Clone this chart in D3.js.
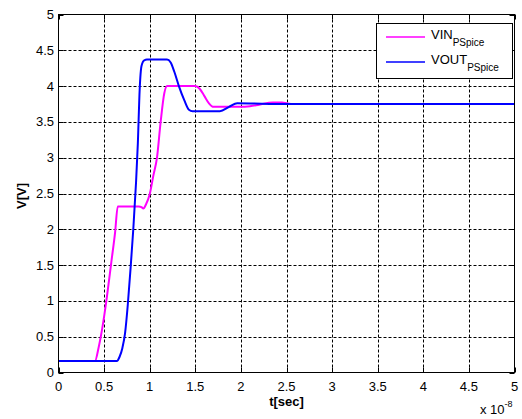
<!DOCTYPE html>
<html>
<head>
<meta charset="utf-8">
<script src="https://cdn.jsdelivr.net/npm/d3@7"></script>
<style>
  html, body { margin: 0; padding: 0; background: #fff; }
  svg { display: block; font-family: "Liberation Sans", Arial, Helvetica, sans-serif; }
</style>
</head>
<body>
<svg id="chart" width="522" height="419"></svg>
<script>
// Time axis values are in units of 1e-8 s
const vinTime = [0, 0.40, 0.44, 0.48, 0.53, 0.58, 0.62, 0.65, 0.88, 0.91, 0.93, 0.96, 1.00, 1.04, 1.08, 1.12, 1.16, 1.19, 1.50, 1.55, 1.60, 1.65, 1.70, 2.00, 2.10, 2.20, 2.35, 2.45, 2.55, 5.0];
const vinValues = [0.16, 0.16, 0.35, 0.62, 1.05, 1.55, 1.95, 2.32, 2.32, 2.31, 2.29, 2.35, 2.49, 2.75, 3.0, 3.5, 3.9, 4.0, 4.0, 3.96, 3.86, 3.76, 3.71, 3.71, 3.72, 3.74, 3.77, 3.77, 3.75, 3.75];

const voutTime = [0, 0.64, 0.67, 0.70, 0.73, 0.76, 0.79, 0.82, 0.85, 0.87, 0.89, 0.91, 0.94, 0.97, 1.19, 1.23, 1.27, 1.32, 1.38, 1.43, 1.47, 1.77, 1.87, 1.96, 2.5, 5.0];
const voutValues = [0.16, 0.16, 0.22, 0.34, 0.55, 0.95, 1.45, 2.0, 2.65, 3.2, 3.95, 4.28, 4.36, 4.37, 4.37, 4.33, 4.2, 4.0, 3.8, 3.67, 3.65, 3.65, 3.71, 3.76, 3.75, 3.75];

const xTicks = [0, 0.5, 1, 1.5, 2, 2.5, 3, 3.5, 4, 4.5, 5];
const yTicks = [0, 0.5, 1, 1.5, 2, 2.5, 3, 3.5, 4, 4.5, 5];
const xTickLabels = ["0", "0.5", "1", "1.5", "2", "2.5", "3", "3.5", "4", "4.5", "5"];
const yTickLabels = ["0", "0.5", "1", "1.5", "2", "2.5", "3", "3.5", "4", "4.5", "5"];

const seriesNames = ["VIN", "VOUT"];
const seriesSub = "PSpice";
const seriesColors = ["#ff00ff", "#0000ff"];

const svg = d3.select("#chart");
const plotLeft = 58.5, plotRight = 514.5, plotTop = 14.5, plotBottom = 372.5;

const x = d3.scaleLinear().domain([0, 5]).range([plotLeft, plotRight]);
const y = d3.scaleLinear().domain([0, 5]).range([plotBottom, plotTop]);

// Dashed grid
const grid = svg.append("g").attr("stroke", "#000").attr("stroke-width", 1).attr("stroke-dasharray", "3,2");
grid.selectAll("line.gx").data(xTicks.slice(1, -1)).join("line")
  .attr("x1", d => Math.round(x(d)) + 0.5).attr("x2", d => Math.round(x(d)) + 0.5)
  .attr("y1", plotTop).attr("y2", plotBottom);
grid.selectAll("line.gy").data(yTicks.slice(1, -1)).join("line")
  .attr("y1", d => Math.round(y(d)) + 0.5).attr("y2", d => Math.round(y(d)) + 0.5)
  .attr("x1", plotLeft).attr("x2", plotRight);

// Inward ticks on all four sides
const tickLen = 5;
const ticks = svg.append("g").attr("stroke", "#000").attr("stroke-width", 1);
xTicks.forEach(t => {
  const px = Math.round(x(t)) + 0.5;
  ticks.append("line").attr("x1", px).attr("x2", px).attr("y1", plotBottom).attr("y2", plotBottom - tickLen);
  ticks.append("line").attr("x1", px).attr("x2", px).attr("y1", plotTop).attr("y2", plotTop + tickLen);
});
yTicks.forEach(t => {
  const py = Math.round(y(t)) + 0.5;
  ticks.append("line").attr("y1", py).attr("y2", py).attr("x1", plotLeft).attr("x2", plotLeft + tickLen);
  ticks.append("line").attr("y1", py).attr("y2", py).attr("x1", plotRight).attr("x2", plotRight - tickLen);
});

// Series lines
const line = d3.line().x(d => x(d[0])).y(d => y(d[1])).curve(d3.curveMonotoneX);
const series = [
  d3.zip(vinTime, vinValues),
  d3.zip(voutTime, voutValues)
];
series.forEach((s, i) => {
  svg.append("path").datum(s)
    .attr("fill", "none")
    .attr("stroke", seriesColors[i])
    .attr("stroke-width", 2)
    .attr("stroke-linejoin", "round")
    .attr("d", line);
});

// Axes box
svg.append("rect").attr("x", plotLeft).attr("y", plotTop)
  .attr("width", plotRight - plotLeft).attr("height", plotBottom - plotTop)
  .attr("fill", "none").attr("stroke", "#000").attr("stroke-width", 1);

// Tick labels
svg.append("g").selectAll("text").data(xTicks).join("text")
  .attr("x", d => x(d)).attr("y", 391)
  .attr("text-anchor", "middle").attr("font-size", 13).attr("fill", "#000")
  .text((d, i) => xTickLabels[i]);
svg.append("g").selectAll("text").data(yTicks).join("text")
  .attr("x", 54).attr("y", d => y(d) + 4.5)
  .attr("text-anchor", "end").attr("font-size", 13).attr("fill", "#000")
  .text((d, i) => yTickLabels[i]);

// Axis titles
svg.append("text").attr("x", (plotLeft + plotRight) / 2).attr("y", 406)
  .attr("text-anchor", "middle").attr("font-size", 13).attr("font-weight", "bold")
  .text("t[sec]");
svg.append("text").attr("transform", "translate(26,196) rotate(-90)")
  .attr("text-anchor", "middle").attr("font-size", 13).attr("font-weight", "bold")
  .text("V[V]");

// Exponent label
const expo = svg.append("text").attr("x", 480).attr("y", 414).attr("font-size", 13);
expo.append("tspan").text("x 10");
expo.append("tspan").attr("dy", -7).attr("font-size", 9).text("-8");

// Legend
const lg = svg.append("g");
lg.append("rect").attr("x", 376.5).attr("y", 23.5).attr("width", 136).attr("height", 55)
  .attr("fill", "#fff").attr("stroke", "#000").attr("stroke-width", 1);
seriesNames.forEach((name, i) => {
  const ly = 37 + i * 25;
  lg.append("line").attr("x1", 386).attr("x2", 425).attr("y1", ly).attr("y2", ly)
    .attr("stroke", seriesColors[i]).attr("stroke-width", 1.5);
  const t = lg.append("text").attr("x", 431).attr("y", ly + 1.5).attr("font-size", 13);
  t.append("tspan").text(name);
  t.append("tspan").attr("dy", 7).attr("font-size", 10).text(seriesSub);
});
</script>
</body>
</html>
